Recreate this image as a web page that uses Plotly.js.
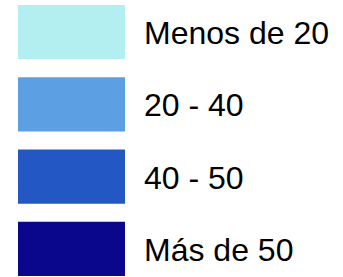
<!DOCTYPE html>
<html><head><meta charset="utf-8">
<script src="https://cdn.plot.ly/plotly-3.0.1.min.js"></script>
<style>html,body{margin:0;padding:0;background:#fff;}#chart{width:343px;height:277px;}</style>
</head><body><div id="chart"></div>
<script>
var categories = ["Menos de 20", "20 - 40", "40 - 50", "Más de 50"];
var values = [1, 1, 1, 1];
var colors = ["#b3eef0", "#5ca0e3", "#2358c4", "#0a078c"];

var trace = {
  type: "bar", orientation: "h",
  x: values, y: categories, base: 0,
  marker: {color: colors, line: {width: 0}},
  width: 0.75, hoverinfo: "none"
};
var annotations = categories.map(function(c, i){
  return {x: values[i], y: c, xref: "x", yref: "y", text: c, showarrow: false,
    xanchor: "left", yanchor: "middle", xshift: 17, yshift: -1,
    font: {family: "Liberation Sans, Arial, sans-serif", size: 32, color: "#000"}};
});
var layout = {
  width: 343, height: 277,
  margin: {l: 0, r: 0, t: 0, b: 0},
  paper_bgcolor: "#fff", plot_bgcolor: "#fff",
  showlegend: false,
  xaxis: {range: [-18/107, 325/107], visible: false, fixedrange: true},
  yaxis: {type: "category", range: [245/72.3, -32/72.3], visible: false, fixedrange: true},
  annotations: annotations
};
Plotly.newPlot("chart", [trace], layout, {displayModeBar: false, staticPlot: true});
</script></body></html>
